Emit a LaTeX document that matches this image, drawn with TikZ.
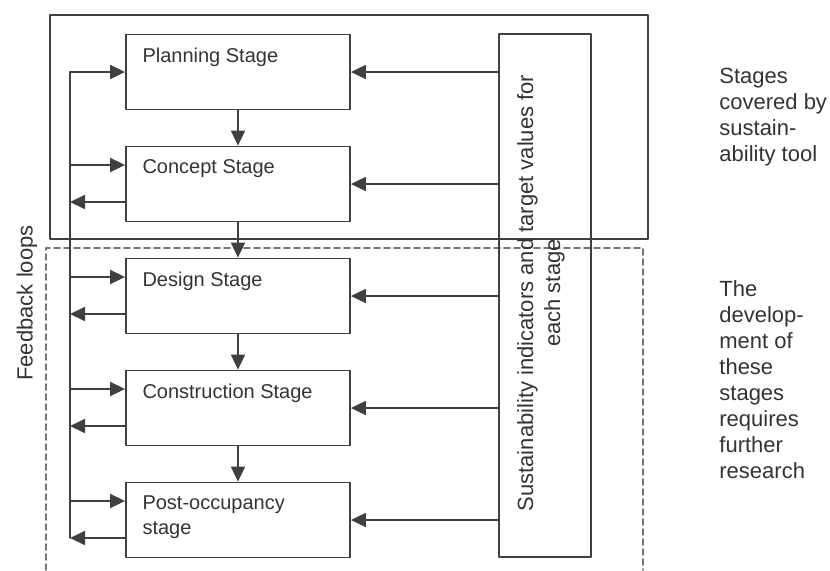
\documentclass[tikz,border=0pt]{standalone}
\usepackage{fontspec}
\setmainfont{Liberation Sans}
\usetikzlibrary{arrows.meta}

\begin{document}
\begin{tikzpicture}[line cap=round,line join=round,x=0.5pt,y=-0.5pt,
  >={Triangle[length=7.5pt,width=7pt]},
  stagebox/.style={draw=black!75,line width=0.9pt,minimum width=112pt,minimum height=37.5pt,inner sep=0pt},
  stagetxt/.style={anchor=north west,inner sep=0pt,xshift=8.5pt,yshift=-7pt,align=left,
    font=\fontsize{10}{12.5}\selectfont,text=black!80},
  flow/.style={->,draw=black!75,line width=0.9pt},
  sidetxt/.style={anchor=north west,inner sep=0pt,align=left,font=\fontsize{11}{13}\selectfont,text=black!80}]
\useasboundingbox (0,0) rectangle (830,570);
%frames
\draw [black!75,line width=0.9pt] (50,15) rectangle (648,239);%tool
\draw [black!55,line width=0.9pt,dash pattern=on 3pt off 2pt] (46,570) -- (46,248) -- (643,248) -- (643,570);%research
%stages
\node[stagebox,label={[stagetxt]north west:Planning Stage}] (plan) at (238,72) {};
\node[stagebox,label={[stagetxt]north west:Concept Stage}] (conc) at (238,184) {};
\node[stagebox,label={[stagetxt]north west:Design Stage}] (des) at (238,296) {};
\node[stagebox,label={[stagetxt]north west:Construction Stage}] (cons) at (238,408) {};
\node[stagebox,label={[stagetxt]north west:{Post-occupancy\\stage}}] (post) at (238,520) {};
%indicators
\node[draw=black!75,line width=0.9pt,minimum width=46pt,minimum height=261.5pt,inner sep=0pt] (sust) at (545,295.5) {};
\node[rotate=90,align=center,font=\fontsize{11}{13.5}\selectfont,text=black!80] (susttxt) at (541,293)
  {Sustainability indicators and target values for\\each stage};
%labels
\node[rotate=90,font=\fontsize{11}{13}\selectfont,text=black!80] (fbtxt) at (27,303) {Feedback loops};
\node[sidetxt] (tooltxt) at (719,68) {Stages\\covered by\\sustain-\\ability tool};
\node[sidetxt] (restxt) at (719,280) {The\\develop-\\ment of\\these\\stages\\requires\\further\\research};
%feedback loop
\coordinate (fbbot) at (70,538);
\draw [flow] (fbbot) |- (plan.west);
\foreach \s in {conc,des,cons,post}{
  \coordinate (\s-in) at ([shift={(0,-19)}]\s.west);
  \coordinate (\s-out) at ([shift={(0,18)}]\s.west);
  \draw [flow] (fbbot |- \s-in) -- (\s-in);
  \draw [flow] (\s-out) -- (fbbot |- \s-out);
}
%stage to stage
\foreach \a/\b in {plan/conc,conc/des,des/cons,cons/post}
  \draw [flow] (\a) -- (\b);
%indicators to stages
\foreach \s in {plan,conc,des,cons,post}
  \draw [flow] (sust.west |- \s.east) -- (\s.east);
\end{tikzpicture}
\end{document}
